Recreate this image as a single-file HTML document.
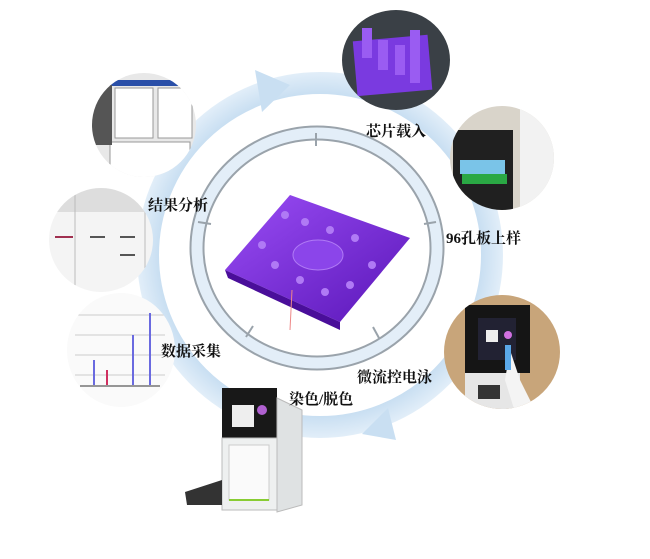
<!DOCTYPE html>
<html><head><meta charset="utf-8"><style>
html,body{margin:0;padding:0;background:#fff}
svg{display:block}
text{font-family:"Liberation Serif","Noto Serif CJK SC",serif;font-weight:bold;font-size:15px;fill:#111}
</style></head><body>
<svg width="650" height="559" viewBox="0 0 650 559" xmlns="http://www.w3.org/2000/svg">
<defs>
<radialGradient id="rg" cx="320" cy="255" r="190" gradientUnits="userSpaceOnUse">
<stop offset="0.85" stop-color="#c9dff2"/><stop offset="1" stop-color="#eaf3fb"/></radialGradient>
<linearGradient id="chip" x1="0" y1="0" x2="1" y2="1"><stop offset="0" stop-color="#9a4df5"/><stop offset="1" stop-color="#5a16b8"/></linearGradient>
<clipPath id="c1"><ellipse cx="396" cy="60" rx="54" ry="50"/></clipPath>
<clipPath id="c2"><ellipse cx="502" cy="158" rx="52" ry="52"/></clipPath>
<clipPath id="c3"><ellipse cx="144" cy="125" rx="52" ry="52"/></clipPath>
<clipPath id="c4"><ellipse cx="101" cy="240" rx="52" ry="52"/></clipPath>
<clipPath id="c5"><ellipse cx="121" cy="350" rx="54" ry="57"/></clipPath>
<clipPath id="c6"><ellipse cx="502" cy="352" rx="58" ry="57"/></clipPath>
</defs>
<!-- big ring -->
<circle cx="320" cy="255" r="172" fill="none" stroke="url(#rg)" stroke-width="22"/>
<polygon points="255,70 290,85 262,112" fill="#c9dff2"/>
<polygon points="388,408 362,434 396,440" fill="#c9dff2"/>
<!-- inner ring -->
<ellipse cx="317" cy="248" rx="120" ry="115" fill="none" stroke="#9aa3ab" stroke-width="15"/>
<ellipse cx="317" cy="248" rx="120" ry="115" fill="none" stroke="#e3eef8" stroke-width="11"/>
<g stroke="#9aa3ab" stroke-width="2">
<line x1="316" y1="133" x2="316" y2="146"/><line x1="198" y1="222" x2="211" y2="224"/>
<line x1="424" y1="224" x2="436" y2="222"/><line x1="246" y1="337" x2="253" y2="326"/>
<line x1="379" y1="338" x2="373" y2="327"/></g>
<!-- center chip -->
<polygon points="290,195 410,238 340,322 225,270" fill="url(#chip)"/>
<polygon points="225,270 340,322 340,330 228,278" fill="#4a0e9a"/>
<ellipse cx="318" cy="255" rx="25" ry="15" fill="#8b45ea" stroke="#b07af5"/>
<g fill="#b07af5"><circle cx="285" cy="215" r="4"/><circle cx="305" cy="222" r="4"/><circle cx="330" cy="230" r="4"/><circle cx="355" cy="238" r="4"/><circle cx="262" cy="245" r="4"/><circle cx="275" cy="265" r="4"/><circle cx="300" cy="280" r="4"/><circle cx="325" cy="292" r="4"/><circle cx="350" cy="285" r="4"/><circle cx="372" cy="265" r="4"/></g>
<line x1="292" y1="290" x2="290" y2="330" stroke="#e88" stroke-width="1"/>
<!-- photo circles -->
<g clip-path="url(#c1)">
<rect x="340" y="8" width="112" height="104" fill="#3a4046"/>
<rect x="355" y="38" width="75" height="55" fill="#7a3ae0" transform="rotate(-5 392 65)"/>
<g fill="#9a5cf2"><rect x="362" y="28" width="10" height="30"/><rect x="378" y="40" width="10" height="30"/><rect x="395" y="45" width="10" height="30"/><rect x="410" y="30" width="10" height="30"/><rect x="410" y="55" width="10" height="28"/></g>
</g>
<g clip-path="url(#c2)">
<rect x="448" y="104" width="110" height="110" fill="#d9d4ca"/>
<rect x="453" y="130" width="60" height="85" fill="#202020"/>
<rect x="460" y="160" width="45" height="14" fill="#7ac4e8"/><rect x="462" y="174" width="45" height="10" fill="#2aa844"/>
<rect x="520" y="108" width="40" height="110" fill="#f2f2f2"/>
</g>
<g clip-path="url(#c3)">
<rect x="90" y="72" width="110" height="110" fill="#e8e8e8"/>
<rect x="96" y="80" width="98" height="6" fill="#2a4fa8"/>
<rect x="115" y="88" width="38" height="50" fill="#fff" stroke="#999"/><rect x="158" y="88" width="34" height="50" fill="#fff" stroke="#999"/>
<rect x="110" y="142" width="80" height="40" fill="#fff" stroke="#999"/>
<rect x="92" y="85" width="20" height="60" fill="#555"/>
</g>
<g clip-path="url(#c4)">
<rect x="48" y="187" width="106" height="106" fill="#f4f4f4"/>
<rect x="48" y="187" width="106" height="25" fill="#ddd"/>
<g stroke="#bbb"><line x1="75" y1="190" x2="75" y2="290"/><line x1="145" y1="190" x2="145" y2="290"/></g>
<g stroke="#555" stroke-width="2"><line x1="55" y1="237" x2="73" y2="237" stroke="#a03050"/><line x1="90" y1="237" x2="105" y2="237"/><line x1="120" y1="237" x2="135" y2="237"/><line x1="120" y1="255" x2="135" y2="255"/></g>
</g>
<g clip-path="url(#c5)">
<rect x="66" y="292" width="112" height="118" fill="#fafafa"/>
<g stroke="#ccc"><line x1="75" y1="315" x2="165" y2="315"/><line x1="75" y1="335" x2="165" y2="335"/><line x1="75" y1="355" x2="165" y2="355"/><line x1="75" y1="375" x2="165" y2="375"/></g>
<g stroke="#6a6ae0" stroke-width="2"><line x1="94" y1="385" x2="94" y2="360"/><line x1="133" y1="385" x2="133" y2="335"/><line x1="150" y1="385" x2="150" y2="313"/><line x1="107" y1="385" x2="107" y2="370" stroke="#d03060"/></g>
<line x1="80" y1="386" x2="160" y2="386" stroke="#333"/>
</g>
<g clip-path="url(#c6)">
<rect x="444" y="295" width="116" height="115" fill="#c8a57a"/>
<rect x="465" y="305" width="65" height="68" fill="#151515"/>
<rect x="478" y="318" width="38" height="42" fill="#223"/><rect x="486" y="330" width="12" height="12" fill="#eee"/><circle cx="508" cy="335" r="4" fill="#d070e0"/>
<rect x="465" y="373" width="55" height="40" fill="#e6e6e6"/>
<rect x="478" y="385" width="22" height="14" fill="#333"/>
<path d="M510 350 L520 380 L535 410 L515 412 L505 380 Z" fill="#f4f4f4"/><rect x="505" y="345" width="6" height="25" fill="#5aa8e8"/>
</g>
<!-- instrument -->
<rect x="222" y="388" width="55" height="50" fill="#181818"/>
<rect x="232" y="405" width="22" height="22" fill="#eee"/><circle cx="262" cy="410" r="5" fill="#b060d0"/>
<rect x="222" y="438" width="55" height="72" fill="#eef0f0" stroke="#bbb"/>
<rect x="229" y="445" width="40" height="55" fill="#fafafa" stroke="#ccc"/>
<line x1="229" y1="500" x2="269" y2="500" stroke="#8c3" stroke-width="2"/>
<polygon points="277,398 302,410 302,505 277,512" fill="#dfe2e3" stroke="#bbb"/>
<polygon points="185,492 222,480 222,505 187,505" fill="#333"/>
<!-- labels -->
<text x="366" y="136">芯片载入</text>
<text x="446" y="243">96孔板上样</text>
<text x="148" y="210">结果分析</text>
<text x="161" y="356">数据采集</text>
<text x="357" y="382">微流控电泳</text>
<text x="289" y="404">染色/脱色</text>
</svg>
</body></html>
